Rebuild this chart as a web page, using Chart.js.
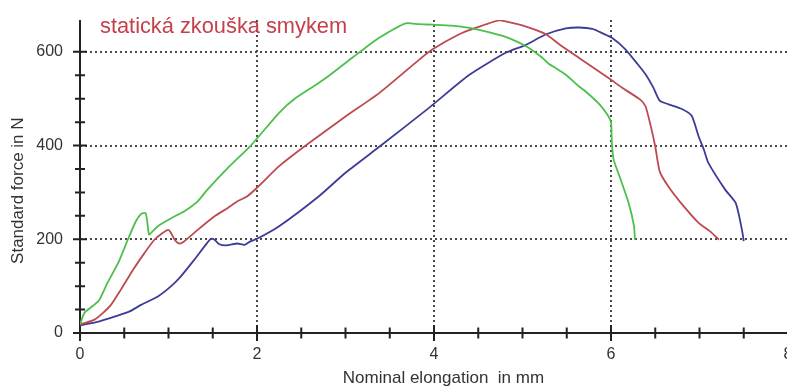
<!DOCTYPE html>
<html><head><meta charset="utf-8">
<script src="https://cdn.jsdelivr.net/npm/chart.js@4/dist/chart.umd.min.js"></script>
<style>
html,body{margin:0;padding:0;background:#fff;overflow:hidden;width:787px;height:387px}
#wrap{width:792px;height:387px}
</style></head>
<body><div id="wrap"><canvas id="c" width="792" height="387"></canvas></div>
<script>
const chartTitle = 'statická zkouška smykem';
const xAxisTitle = '    Nominal elongation  in mm';
const yAxisTitle = 'Standard force in N      ';
const xTickLabels = [0, 2, 4, 6, 8];
const yTickLabels = [0, 200, 400, 600];

const greenX = [0, 0.05, 0.16, 0.22, 0.31, 0.43, 0.54, 0.63, 0.69, 0.74, 0.76, 0.78, 0.82, 0.88, 1.03, 1.18, 1.33, 1.44, 1.69, 1.93, 2.25, 2.44, 2.70, 2.82, 3.08, 3.15, 3.38, 3.68, 3.83, 3.98, 4.20, 4.40, 4.66, 4.81, 5.04, 5.22, 5.30, 5.37, 5.49, 5.64, 5.71, 5.86, 5.96, 6.00, 6.01, 6.03, 6.11, 6.20, 6.26, 6.27];
const greenY = [18, 43, 60, 71, 107, 149, 199, 238, 254, 256, 238, 210, 217, 228, 245, 260, 281, 306, 356, 400, 470, 502, 534, 550, 588, 598, 630, 661, 659, 658, 656, 651, 640, 632, 612, 588, 574, 566, 551, 526, 516, 490, 466, 450, 405, 370, 327, 277, 228, 199];

const redX = [0, 0.16, 0.26, 0.35, 0.46, 0.60, 0.73, 0.84, 0.93, 1.00, 1.03, 1.07, 1.12, 1.18, 1.33, 1.52, 1.67, 1.78, 1.89, 2.00, 2.25, 2.55, 3.00, 3.38, 3.83, 3.98, 4.28, 4.47, 4.73, 4.81, 5.04, 5.26, 5.41, 5.64, 5.98, 6.13, 6.33, 6.39, 6.45, 6.50, 6.55, 6.65, 6.78, 6.99, 7.12, 7.22];
const redY = [18, 28, 43, 60, 92, 135, 171, 199, 213, 220, 213, 199, 191, 196, 220, 249, 267, 281, 292, 310, 356, 400, 462, 512, 583, 605, 637, 651, 667, 665, 654, 638, 617, 587, 543, 523, 498, 484, 441, 398, 345, 312, 280, 235, 217, 199];

const blueX = [0, 0.22, 0.39, 0.56, 0.69, 0.88, 1.03, 1.14, 1.29, 1.42, 1.48, 1.52, 1.57, 1.65, 1.78, 1.86, 1.93, 2.00, 2.25, 2.70, 3.00, 3.40, 3.94, 4.40, 4.81, 5.04, 5.26, 5.49, 5.64, 5.79, 5.90, 6.01, 6.16, 6.30, 6.39, 6.48, 6.55, 6.65, 6.80, 6.91, 6.99, 7.05, 7.10, 7.29, 7.41, 7.48, 7.50];
const blueY = [16, 25, 35, 46, 60, 78, 100, 121, 156, 188, 201, 199, 190, 187, 191, 188, 196, 201, 228, 292, 342, 400, 480, 551, 598, 615, 637, 650, 652, 649, 640, 630, 606, 574, 552, 523, 496, 488, 478, 464, 420, 391, 363, 306, 277, 220, 196];

const toPts = (xs, ys) => xs.map((v, i) => ({x: v, y: ys[i]}));
const FONT = '"Liberation Sans", Arial, sans-serif';

const crossAxes = {
  id: 'crossAxes',
  beforeDatasetsDraw(chart) {
    const {ctx, chartArea: a, scales: {x, y}} = chart;
    const x0 = x.getPixelForValue(0), y0 = y.getPixelForValue(0);
    ctx.save();
    ctx.strokeStyle = '#222';
    ctx.lineWidth = 2;
    ctx.beginPath();
    ctx.moveTo(x0 - 7, y0); ctx.lineTo(chart.width, y0);
    ctx.moveTo(x0, a.top); ctx.lineTo(x0, y0);
    x.ticks.forEach(t => {
      const px = x.getPixelForValue(t.value);
      const L = (t.value % 2 === 0) ? 8 : 5.5;
      ctx.moveTo(px, y0 - L); ctx.lineTo(px, y0 + L);
    });
    y.ticks.forEach(t => {
      if (t.value === 0) return;
      const py = y.getPixelForValue(t.value);
      const L = (t.value % 200 === 0) ? 7 : 5;
      ctx.moveTo(x0 - L, py); ctx.lineTo(x0 + L, py);
    });
    ctx.stroke();
    ctx.fillStyle = '#c4414b';
    ctx.font = '21.8px ' + FONT;
    ctx.textBaseline = 'alphabetic';
    ctx.textAlign = 'left';
    ctx.fillText(chartTitle, 100, 33);
    ctx.restore();
  }
};

const noPad = s => { s.paddingLeft = 0; s.paddingRight = 0; s.paddingTop = 0; s.paddingBottom = 0; };

new Chart(document.getElementById('c'), {
  type: 'line',
  data: {
    datasets: [
      {label: 'green', data: toPts(greenX, greenY), borderColor: '#4cbf4c'},
      {label: 'red', data: toPts(redX, redY), borderColor: '#bd4a50'},
      {label: 'blue', data: toPts(blueX, blueY), borderColor: '#3c3c96'}
    ]
  },
  options: {
    responsive: false,
    devicePixelRatio: 1,
    animation: false,
    layout: {padding: {top: 20, right: 4, left: 0, bottom: 0}},
    elements: {
      point: {radius: 0},
      line: {borderWidth: 1.8, tension: 0.2, fill: false}
    },
    plugins: {legend: {display: false}, tooltip: {enabled: false}},
    scales: {
      x: {
        type: 'linear', min: 0, max: 8,
        afterFit: s => { s.height = 54; noPad(s); },
        ticks: {
          stepSize: 0.5, autoSkip: false, maxRotation: 0, padding: 12,
          color: '#333', font: {family: FONT, size: 16},
          callback: v => xTickLabels.includes(v) ? String(v) : ''
        },
        grid: {
          drawTicks: false, lineWidth: 2,
          color: c => (c.tick && [2, 4, 6].includes(c.tick.value)) ? '#4a4a4a' : 'rgba(0,0,0,0)'
        },
        border: {display: false, dash: [2, 3]},
        title: {display: true, text: xAxisTitle, color: '#333', font: {family: FONT, size: 17, lineHeight: 1}, padding: {top: 0, bottom: 0}}
      },
      y: {
        type: 'linear', min: 0, max: 668,
        afterFit: s => { s.width = 80; noPad(s); },
        afterBuildTicks: s => { s.ticks = s.ticks.filter(t => t.value <= 650); },
        ticks: {
          stepSize: 50, autoSkip: false, padding: 17,
          color: '#333', font: {family: FONT, size: 16},
          callback: v => yTickLabels.includes(v) ? String(v) : ''
        },
        grid: {
          drawTicks: false, lineWidth: 2,
          color: c => (c.tick && [200, 400, 600].includes(c.tick.value)) ? '#4a4a4a' : 'rgba(0,0,0,0)'
        },
        border: {display: false, dash: [2, 3]},
        title: {display: true, text: yAxisTitle, color: '#333', font: {family: FONT, size: 17}, padding: {top: 8, bottom: 0}}
      }
    }
  },
  plugins: [crossAxes]
});
</script>
</body></html>
